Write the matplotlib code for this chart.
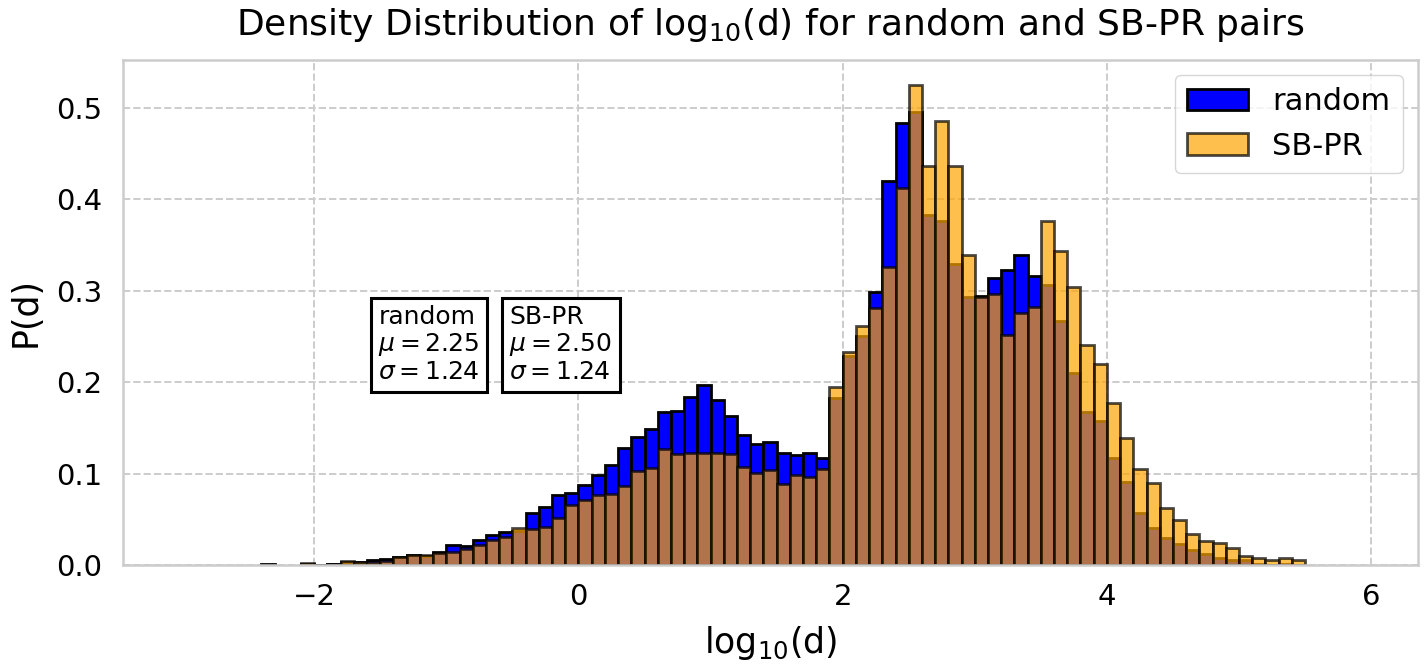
import matplotlib
matplotlib.use('Agg')
import matplotlib.pyplot as plt
import numpy as np

# left edges of the log10(d) histogram bins (width 0.1), from -3.0 to 5.8
bin_left = np.round(np.arange(-3.0, 5.85, 0.1), 1)
bin_width = 0.1

# density per bin, one value per bin starting at -3.0
random_density = np.array([
    0, 0, 0, 0, 0, 0, 0.0012, 0, 0, 0.0015,            # -3.0 .. -2.1
    0.0005, 0.0015, 0.003, 0.003, 0.005, 0.007, 0.0085, 0.011, 0.010, 0.014,  # -2.0 .. -1.1
    0.022, 0.021, 0.027, 0.033, 0.036, 0.037, 0.057, 0.063, 0.077, 0.079,     # -1.0 .. -0.1
    0.087, 0.099, 0.109, 0.128, 0.140, 0.149, 0.167, 0.169, 0.184, 0.197,     # 0.0 .. 0.9
    0.180, 0.163, 0.142, 0.132, 0.135, 0.123, 0.120, 0.123, 0.117, 0.183,     # 1.0 .. 1.9
    0.229, 0.250, 0.299, 0.420, 0.484, 0.496, 0.383, 0.376, 0.329, 0.293,     # 2.0 .. 2.9
    0.294, 0.314, 0.323, 0.339, 0.316, 0.306, 0.267, 0.210, 0.167, 0.157,     # 3.0 .. 3.9
    0.117, 0.091, 0.057, 0.041, 0.029, 0.023, 0.016, 0.012, 0.008, 0.006,     # 4.0 .. 4.9
    0.006, 0.001, 0, 0.001, 0, 0, 0, 0, 0,                                    # 5.0 .. 5.8
])
sbpr_density = np.array([
    0, 0, 0, 0, 0, 0, 0, 0, 0, 0.002,                  # -3.0 .. -2.1
    0.0005, 0.0015, 0.0045, 0.003, 0.003, 0.004, 0.0085, 0.011, 0.011, 0.013,  # -2.0 .. -1.1
    0.014, 0.017, 0.022, 0.027, 0.031, 0.040, 0.039, 0.042, 0.051, 0.066,     # -1.0 .. -0.1
    0.071, 0.077, 0.078, 0.086, 0.103, 0.106, 0.127, 0.121, 0.123, 0.123,     # 0.0 .. 0.9
    0.123, 0.121, 0.107, 0.101, 0.104, 0.089, 0.098, 0.096, 0.105, 0.195,     # 1.0 .. 1.9
    0.233, 0.262, 0.281, 0.326, 0.412, 0.525, 0.437, 0.486, 0.436, 0.339,     # 2.0 .. 2.9
    0.293, 0.296, 0.252, 0.276, 0.282, 0.376, 0.343, 0.304, 0.241, 0.220,     # 3.0 .. 3.9
    0.177, 0.139, 0.105, 0.090, 0.062, 0.049, 0.034, 0.026, 0.024, 0.019,     # 4.0 .. 4.9
    0.010, 0.008, 0.005, 0.008, 0.006, 0, 0, 0, 0,                           # 5.0 .. 5.8
])

stats = {'random': (2.25, 1.24), 'SB-PR': (2.50, 1.24)}

plt.rcParams.update({
    'axes.edgecolor': '#cccccc',
    'axes.linewidth': 1.8,
    'grid.color': '#cccccc',
    'grid.linestyle': '--',
    'grid.linewidth': 1.4,
    'xtick.major.size': 0,
    'ytick.major.size': 0,
})

fig = plt.figure(figsize=(14.24, 6.68), dpi=100)
ax = fig.add_axes([0.0866, 0.1542, 0.9092, 0.756])
ax.set_axisbelow(True)
ax.grid(True)

# empty bins are not drawn
m = random_density > 0
ax.bar(bin_left[m], random_density[m], width=bin_width, align='edge',
       color='blue', edgecolor='black', linewidth=2, label='random')
m = sbpr_density > 0
ax.bar(bin_left[m], sbpr_density[m], width=bin_width, align='edge',
       color='orange', alpha=0.7, edgecolor='black', linewidth=2, label='SB-PR')

for xpos, name in [(-1.515, 'random'), (-0.525, 'SB-PR')]:
    mu, sigma = stats[name]
    ax.text(xpos, 0.284, f'{name}\n$\\mu = {mu:.2f}$\n$\\sigma = {sigma:.2f}$',
            fontsize=18, va='top', ha='left', linespacing=1.1,
            bbox=dict(boxstyle='square,pad=0.3', facecolor='white',
                      edgecolor='black', linewidth=2.2))

ax.set_xlim(-3.445, 6.355)
ax.set_ylim(0, 0.5525)
ax.set_yticks([0.0, 0.1, 0.2, 0.3, 0.4, 0.5])
ax.tick_params(axis='both', labelsize=21)
ax.tick_params(axis='x', pad=13)
ax.tick_params(axis='y', pad=15)

ax.set_xlabel('log$_{10}$(d)', fontsize=25, labelpad=9)
ax.set_ylabel('P(d)', fontsize=25, labelpad=10)
ax.set_title('Density Distribution of log$_{10}$(d) for random and SB-PR pairs',
             fontsize=26, pad=18)

leg = ax.legend(loc='upper right', fontsize=22)
leg.get_frame().set_edgecolor('#cccccc')

plt.savefig('out.png', dpi=100)
